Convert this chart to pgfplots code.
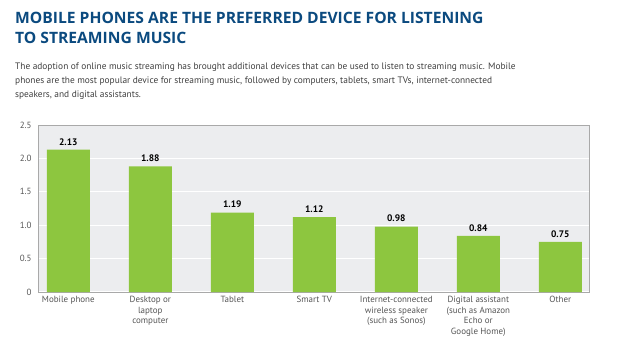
\documentclass[border=0pt]{standalone}
\usepackage{pgfplots}
\pgfplotsset{compat=1.18}
\usepackage{fontspec}
\setmainfont{PT Sans}
\newfontfamily\titlefont{Open Sans}
\definecolor{titleblue}{HTML}{0B4A7F}
\definecolor{bodygray}{HTML}{3F3F3F}
\definecolor{tickgray}{HTML}{555555}
\definecolor{bargreen}{HTML}{8DC63F}
\definecolor{bggray}{HTML}{ECEDEF}
\definecolor{bordergray}{HTML}{A9A9A9}
\begin{document}
\begin{tikzpicture}[x=1bp,y=1bp]
\path[use as bounding box] (0,0) rectangle (619,345);
\node[anchor=base west, inner sep=0, text=titleblue, font=\titlefont\bfseries\fontsize{15.7}{20}\selectfont] at (15,322) {MOBILE PHONES ARE THE PREFERRED DEVICE FOR LISTENING};
\node[anchor=base west, inner sep=0, text=titleblue, font=\titlefont\bfseries\fontsize{15.7}{20}\selectfont] at (15,302) {TO STREAMING MUSIC};
\node[anchor=base west, inner sep=0, text=bodygray, font=\fontsize{9.4}{14}\selectfont] at (15,276) {The adoption of online music streaming has brought additional devices that can be used to listen to streaming music. Mobile};
\node[anchor=base west, inner sep=0, text=bodygray, font=\fontsize{9.4}{14}\selectfont] at (15,262) {phones are the most popular device for streaming music, followed by computers, tablets, smart TVs, internet-connected};
\node[anchor=base west, inner sep=0, text=bodygray, font=\fontsize{9.4}{14}\selectfont] at (15,248) {speakers, and digital assistants.};
\begin{axis}[
  at={(38bp,53bp)}, anchor=south west,
  width=551bp, height=167bp, scale only axis,
  xmin=-0.37, xmax=6.35, ymin=0, ymax=2.5,
  axis background/.style={fill=bggray},
  axis line style={draw=bordergray, line width=0.9pt},
  ymajorgrids, grid style={white, line width=1.2pt},
  major tick length=0pt,
  ytick={0,0.5,1,1.5,2,2.5},
  yticklabels={0,0.5,1.0,1.5,2.0,2.5},
  xtick={0,1,2,3,4,5,6},
  xticklabels={Mobile phone,{Desktop or\\laptop\\computer},Tablet,Smart TV,{Internet-connected\\wireless speaker\\(such as Sonos)},{Digital assistant\\(such as Amazon\\Echo or\\Google Home)},Other},
  xticklabel style={align=center, font=\fontsize{9}{10.5}\selectfont, text=tickgray, anchor=north, yshift=-1bp},
  yticklabel style={font=\fontsize{9}{10}\selectfont, text=tickgray, xshift=-3bp},
  /pgf/number format/assume math mode=true,
  nodes near coords,
  nodes near coords style={font=\bfseries\fontsize{9.5}{10}\selectfont, text=black, anchor=south, yshift=1bp, /pgf/number format/fixed, /pgf/number format/fixed zerofill, /pgf/number format/precision=2},
]
\addplot[ybar, bar width=43bp, fill=bargreen, draw=none] coordinates {
(0,2.13) (1,1.88) (2,1.19) (3,1.12) (4,0.98) (5,0.84) (6,0.75)
};
\end{axis}
\end{tikzpicture}
\end{document}
